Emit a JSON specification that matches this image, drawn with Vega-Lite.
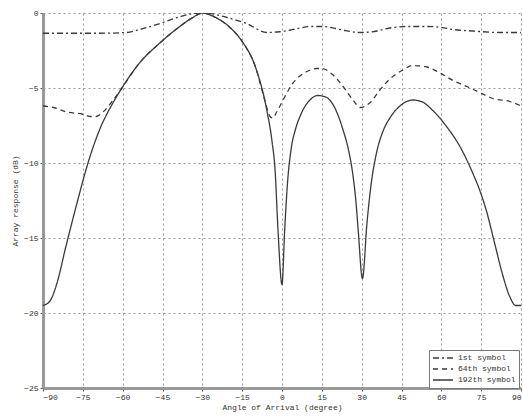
{
  "$schema": "https://vega.github.io/schema/vega-lite/v6.json",
  "width": 478,
  "height": 375,
  "autosize": {"type": "none"},
  "padding": {"left": 43, "top": 13, "right": 2, "bottom": 32},
  "background": "white",
  "view": {"stroke": null},
  "config": {
    "font": "Liberation Mono",
    "axis": {
      "labelFont": "Liberation Mono",
      "titleFont": "Liberation Mono",
      "labelFontSize": 8,
      "titleFontSize": 8,
      "titleFontWeight": "normal",
      "labelColor": "#333",
      "titleColor": "#333",
      "domainColor": "#999",
      "domainWidth": 3,
      "tickColor": "#555",
      "tickSize": 3,
      "gridColor": "#999",
      "gridDash": [2, 3],
      "gridWidth": 1
    }
  },
  "data": {
    "values": [
      {"angle": -90, "db": -1.35, "series": "1st symbol"},
      {"angle": -80, "db": -1.35, "series": "1st symbol"},
      {"angle": -70, "db": -1.35, "series": "1st symbol"},
      {"angle": -58.4, "db": -1.3, "series": "1st symbol"},
      {"angle": -53.5, "db": -1.1, "series": "1st symbol"},
      {"angle": -46, "db": -0.7, "series": "1st symbol"},
      {"angle": -38.5, "db": -0.25, "series": "1st symbol"},
      {"angle": -34, "db": -0.05, "series": "1st symbol"},
      {"angle": -30, "db": 0, "series": "1st symbol"},
      {"angle": -25, "db": -0.1, "series": "1st symbol"},
      {"angle": -20.7, "db": -0.3, "series": "1st symbol"},
      {"angle": -13.3, "db": -0.7, "series": "1st symbol"},
      {"angle": -5.7, "db": -1.3, "series": "1st symbol"},
      {"angle": -0.8, "db": -1.25, "series": "1st symbol"},
      {"angle": 3, "db": -1.15, "series": "1st symbol"},
      {"angle": 6.8, "db": -1.0, "series": "1st symbol"},
      {"angle": 10.5, "db": -0.9, "series": "1st symbol"},
      {"angle": 15.4, "db": -0.9, "series": "1st symbol"},
      {"angle": 21.8, "db": -1.1, "series": "1st symbol"},
      {"angle": 29.4, "db": -1.3, "series": "1st symbol"},
      {"angle": 35.8, "db": -1.2, "series": "1st symbol"},
      {"angle": 40.6, "db": -1.0, "series": "1st symbol"},
      {"angle": 47, "db": -0.9, "series": "1st symbol"},
      {"angle": 54.6, "db": -0.9, "series": "1st symbol"},
      {"angle": 59.5, "db": -0.95, "series": "1st symbol"},
      {"angle": 64.4, "db": -1.1, "series": "1st symbol"},
      {"angle": 71.9, "db": -1.2, "series": "1st symbol"},
      {"angle": 82, "db": -1.3, "series": "1st symbol"},
      {"angle": 90, "db": -1.3, "series": "1st symbol"},

      {"angle": -90, "db": -6.2, "series": "64th symbol"},
      {"angle": -86, "db": -6.3, "series": "64th symbol"},
      {"angle": -81, "db": -6.6, "series": "64th symbol"},
      {"angle": -75, "db": -6.75, "series": "64th symbol"},
      {"angle": -72, "db": -6.9, "series": "64th symbol"},
      {"angle": -70, "db": -6.9, "series": "64th symbol"},
      {"angle": -67.4, "db": -6.6, "series": "64th symbol"},
      {"angle": -64, "db": -5.9, "series": "64th symbol"},
      {"angle": -60.3, "db": -5, "series": "64th symbol"},
      {"angle": -53.5, "db": -3.3, "series": "64th symbol"},
      {"angle": -46, "db": -2, "series": "64th symbol"},
      {"angle": -38.5, "db": -0.9, "series": "64th symbol"},
      {"angle": -33.6, "db": -0.3, "series": "64th symbol"},
      {"angle": -30, "db": 0, "series": "64th symbol"},
      {"angle": -25, "db": -0.3, "series": "64th symbol"},
      {"angle": -20, "db": -0.9, "series": "64th symbol"},
      {"angle": -15, "db": -1.9, "series": "64th symbol"},
      {"angle": -10, "db": -3.6, "series": "64th symbol"},
      {"angle": -6.5, "db": -5.8, "series": "64th symbol"},
      {"angle": -4.5, "db": -6.9, "series": "64th symbol"},
      {"angle": -3.5, "db": -7.0, "series": "64th symbol"},
      {"angle": -2, "db": -6.6, "series": "64th symbol"},
      {"angle": 0.4, "db": -5.8, "series": "64th symbol"},
      {"angle": 4, "db": -4.7, "series": "64th symbol"},
      {"angle": 9.4, "db": -3.9, "series": "64th symbol"},
      {"angle": 13, "db": -3.7, "series": "64th symbol"},
      {"angle": 15, "db": -3.7, "series": "64th symbol"},
      {"angle": 19, "db": -4.1, "series": "64th symbol"},
      {"angle": 23, "db": -4.9, "series": "64th symbol"},
      {"angle": 26.7, "db": -5.8, "series": "64th symbol"},
      {"angle": 29.5, "db": -6.3, "series": "64th symbol"},
      {"angle": 33, "db": -6.0, "series": "64th symbol"},
      {"angle": 37, "db": -5.1, "series": "64th symbol"},
      {"angle": 40.6, "db": -4.4, "series": "64th symbol"},
      {"angle": 45.5, "db": -3.8, "series": "64th symbol"},
      {"angle": 49.3, "db": -3.5, "series": "64th symbol"},
      {"angle": 54.6, "db": -3.6, "series": "64th symbol"},
      {"angle": 59.5, "db": -4.0, "series": "64th symbol"},
      {"angle": 64.4, "db": -4.5, "series": "64th symbol"},
      {"angle": 69.6, "db": -4.9, "series": "64th symbol"},
      {"angle": 74.5, "db": -5.3, "series": "64th symbol"},
      {"angle": 79.4, "db": -5.7, "series": "64th symbol"},
      {"angle": 85.8, "db": -5.9, "series": "64th symbol"},
      {"angle": 90, "db": -6.2, "series": "64th symbol"},

      {"angle": -90, "db": -19.5, "series": "192th symbol"},
      {"angle": -87.4, "db": -19.2, "series": "192th symbol"},
      {"angle": -84.4, "db": -17.8, "series": "192th symbol"},
      {"angle": -81.7, "db": -15.8, "series": "192th symbol"},
      {"angle": -79, "db": -13.9, "series": "192th symbol"},
      {"angle": -76.5, "db": -12.2, "series": "192th symbol"},
      {"angle": -73.4, "db": -10.2, "series": "192th symbol"},
      {"angle": -68.5, "db": -7.7, "series": "192th symbol"},
      {"angle": -64, "db": -6.1, "series": "192th symbol"},
      {"angle": -60.3, "db": -5, "series": "192th symbol"},
      {"angle": -53.5, "db": -3.3, "series": "192th symbol"},
      {"angle": -46, "db": -2, "series": "192th symbol"},
      {"angle": -38.5, "db": -0.9, "series": "192th symbol"},
      {"angle": -33.6, "db": -0.3, "series": "192th symbol"},
      {"angle": -30, "db": 0, "series": "192th symbol"},
      {"angle": -25, "db": -0.3, "series": "192th symbol"},
      {"angle": -20, "db": -0.9, "series": "192th symbol"},
      {"angle": -15, "db": -1.9, "series": "192th symbol"},
      {"angle": -10, "db": -3.6, "series": "192th symbol"},
      {"angle": -5.7, "db": -6.5, "series": "192th symbol"},
      {"angle": -3.8, "db": -8.5, "series": "192th symbol"},
      {"angle": -2.6, "db": -10.5, "series": "192th symbol"},
      {"angle": -1.5, "db": -14.5, "series": "192th symbol"},
      {"angle": 0, "db": -18.1, "series": "192th symbol"},
      {"angle": 1, "db": -14.5, "series": "192th symbol"},
      {"angle": 2, "db": -11.5, "series": "192th symbol"},
      {"angle": 3.5, "db": -9.0, "series": "192th symbol"},
      {"angle": 5, "db": -7.8, "series": "192th symbol"},
      {"angle": 7, "db": -6.8, "series": "192th symbol"},
      {"angle": 10.5, "db": -5.8, "series": "192th symbol"},
      {"angle": 13.5, "db": -5.5, "series": "192th symbol"},
      {"angle": 16.5, "db": -5.6, "series": "192th symbol"},
      {"angle": 19.2, "db": -6.1, "series": "192th symbol"},
      {"angle": 23, "db": -7.8, "series": "192th symbol"},
      {"angle": 25, "db": -9.1, "series": "192th symbol"},
      {"angle": 26.7, "db": -10.8, "series": "192th symbol"},
      {"angle": 27.8, "db": -12.5, "series": "192th symbol"},
      {"angle": 28.7, "db": -14.5, "series": "192th symbol"},
      {"angle": 30.3, "db": -17.7, "series": "192th symbol"},
      {"angle": 32, "db": -14.0, "series": "192th symbol"},
      {"angle": 33.5, "db": -11.5, "series": "192th symbol"},
      {"angle": 35.5, "db": -9.4, "series": "192th symbol"},
      {"angle": 38, "db": -7.9, "series": "192th symbol"},
      {"angle": 41, "db": -6.9, "series": "192th symbol"},
      {"angle": 44.4, "db": -6.2, "series": "192th symbol"},
      {"angle": 49.3, "db": -5.8, "series": "192th symbol"},
      {"angle": 52.5, "db": -5.9, "series": "192th symbol"},
      {"angle": 56.8, "db": -6.5, "series": "192th symbol"},
      {"angle": 62.1, "db": -7.6, "series": "192th symbol"},
      {"angle": 67, "db": -8.9, "series": "192th symbol"},
      {"angle": 71.9, "db": -10.7, "series": "192th symbol"},
      {"angle": 74, "db": -11.6, "series": "192th symbol"},
      {"angle": 77, "db": -13.2, "series": "192th symbol"},
      {"angle": 80, "db": -15.3, "series": "192th symbol"},
      {"angle": 83, "db": -17.4, "series": "192th symbol"},
      {"angle": 86, "db": -19.0, "series": "192th symbol"},
      {"angle": 88, "db": -19.5, "series": "192th symbol"},
      {"angle": 90, "db": -19.5, "series": "192th symbol"}
    ]
  },
  "mark": {"type": "line", "interpolate": "monotone", "strokeWidth": 1.3, "clip": true, "color": "#3a3a3a"},
  "encoding": {
    "x": {
      "field": "angle",
      "type": "quantitative",
      "scale": {"domain": [-90, 90], "nice": false},
      "axis": {
        "values": [-90, -75, -60, -45, -30, -15, 0, 15, 30, 45, 60, 75, 90],
        "title": "Angle of Arrival (degree)",
        "titlePadding": 2,
        "labelPadding": 2
      }
    },
    "y": {
      "field": "db",
      "type": "quantitative",
      "scale": {"domain": [-25, 0], "nice": false},
      "axis": {
        "values": [-25, -20, -15, -10, -5, 0],
        "title": "Array response (dB)",
        "titlePadding": 4,
        "labelPadding": 2
      }
    },
    "strokeDash": {
      "field": "series",
      "type": "nominal",
      "sort": ["1st symbol", "64th symbol", "192th symbol"],
      "scale": {
        "domain": ["1st symbol", "64th symbol", "192th symbol"],
        "range": [[6, 3, 2, 3], [5, 4], [1, 0]]
      },
      "legend": {
        "title": null,
        "orient": "none",
        "legendX": 386,
        "legendY": 337,
        "symbolType": "stroke",
        "symbolSize": 400,
        "symbolStrokeWidth": 1.5,
        "symbolStrokeColor": "#3a3a3a",
        "labelFont": "Liberation Mono",
        "labelFontSize": 8,
        "labelColor": "#333",
        "labelOffset": 4,
        "clipHeight": 10,
        "strokeColor": "#777",
        "fillColor": "white",
        "padding": 3,
        "rowPadding": 1
      }
    }
  }
}
